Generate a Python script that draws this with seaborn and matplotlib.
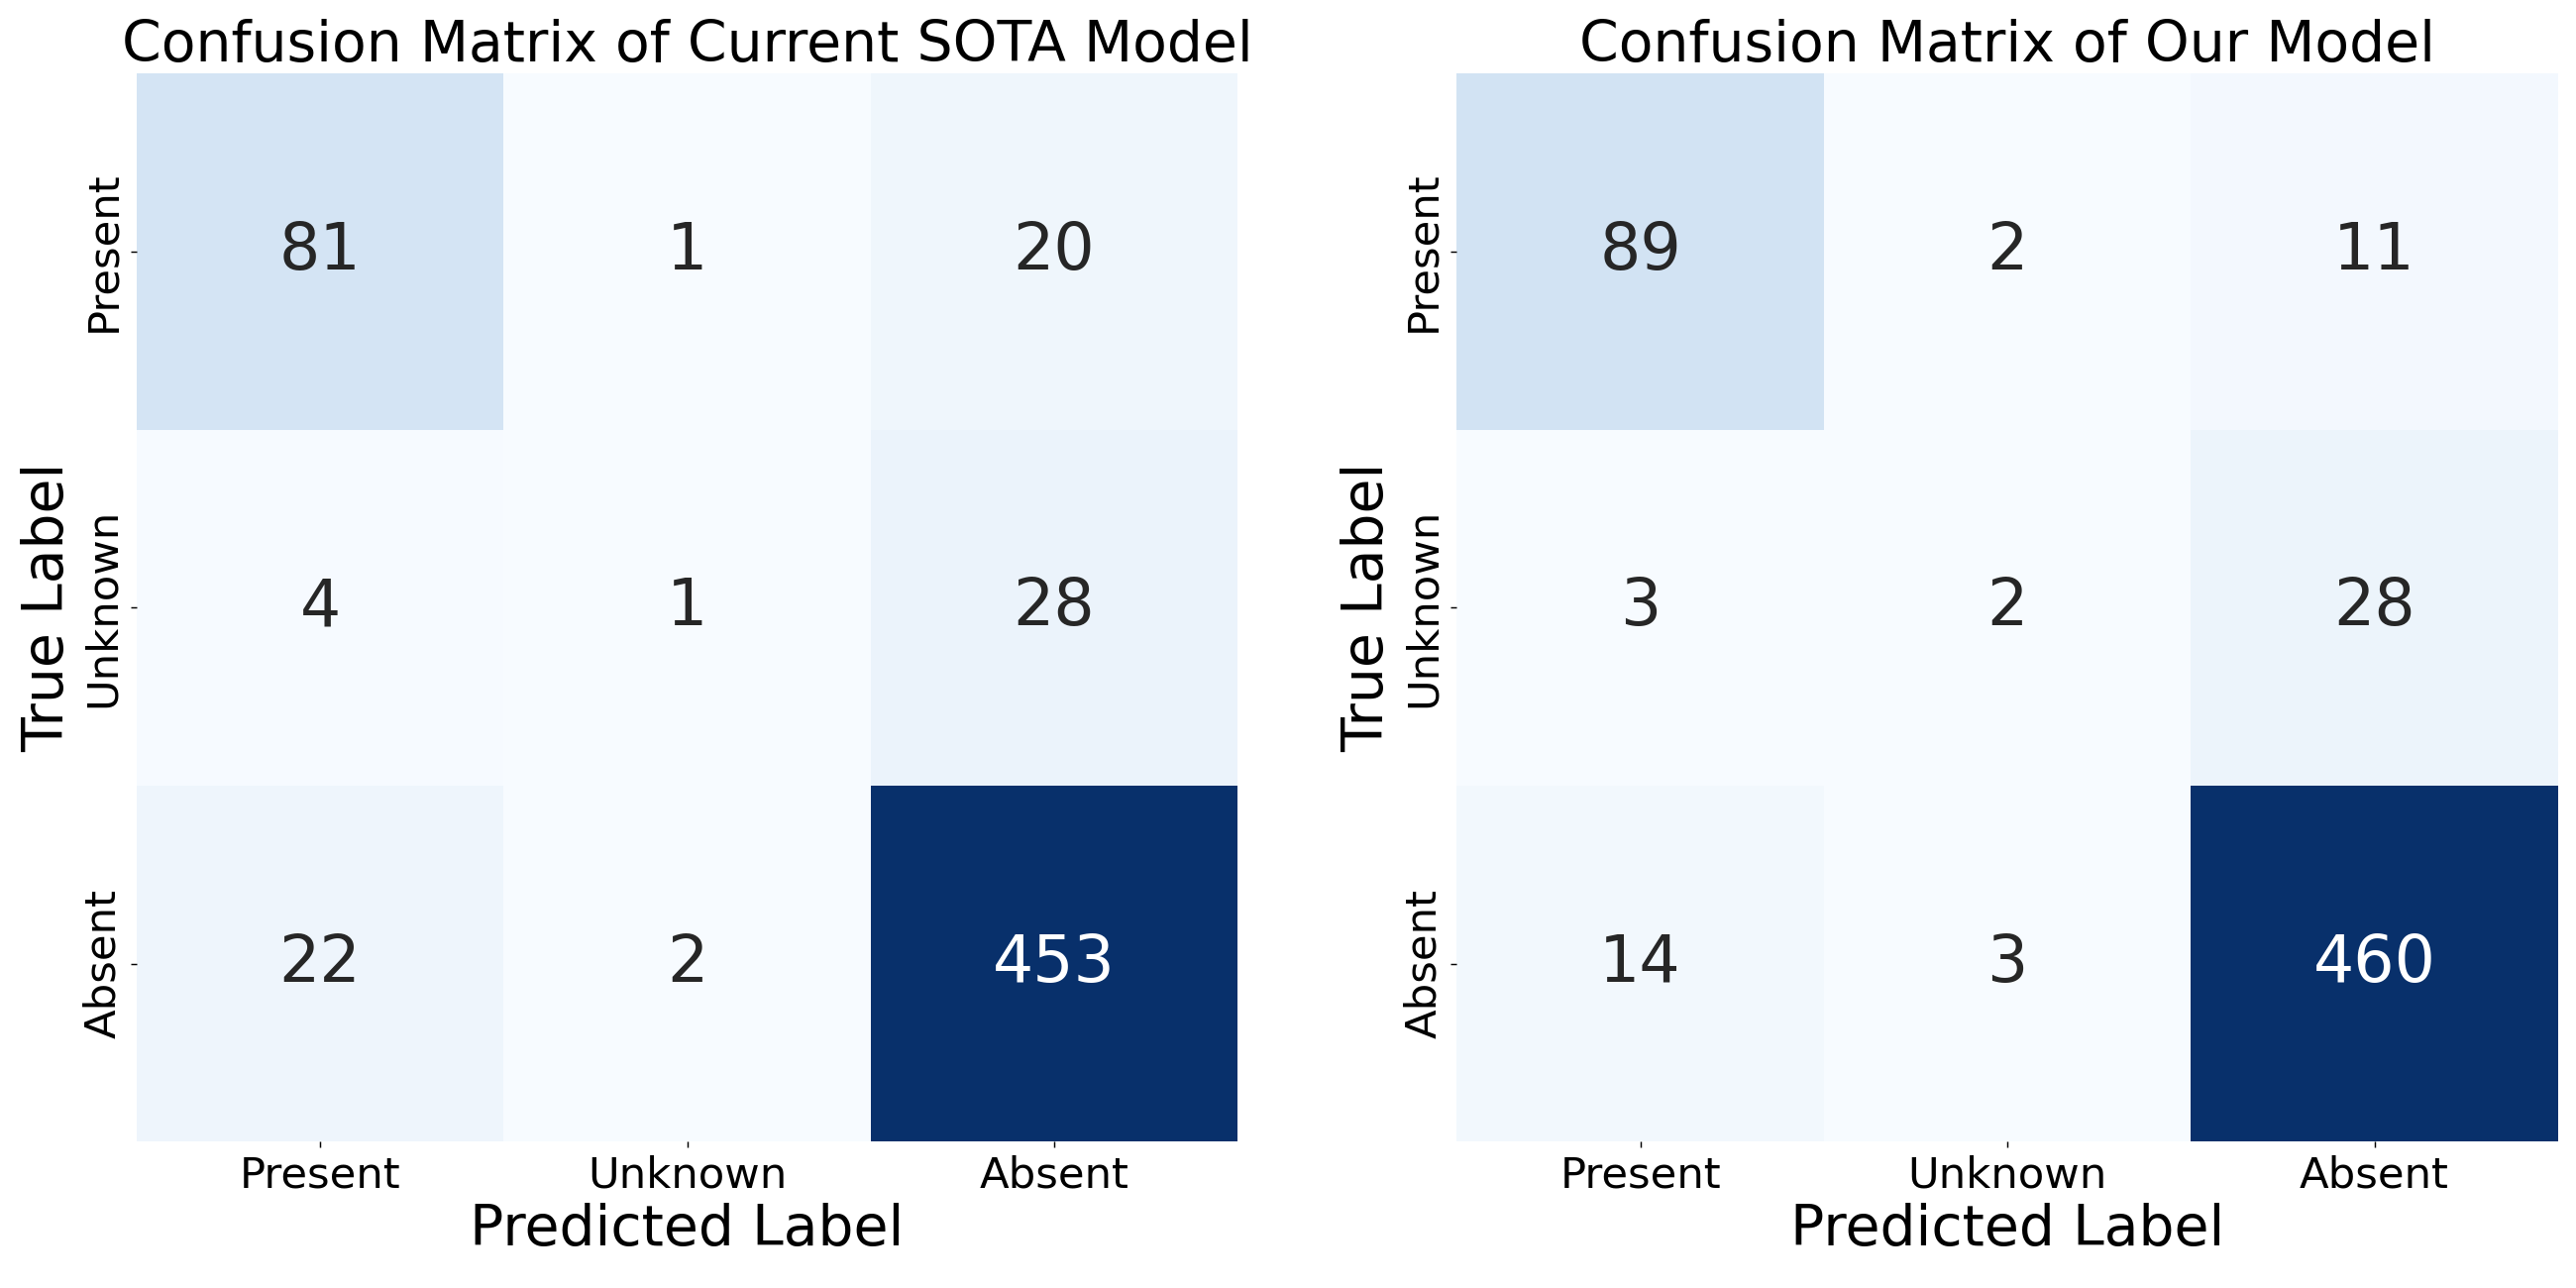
import matplotlib
matplotlib.use("Agg")
import matplotlib.pyplot as plt
import numpy as np
import seaborn as sns

labels = ["Present", "Unknown", "Absent"]
sota_matrix = [[81, 1, 20],
               [4, 1, 28],
               [22, 2, 453]]
ours_matrix = [[89, 2, 11],
               [3, 2, 28],
               [14, 3, 460]]

panels = [
    ("Confusion Matrix of Current SOTA Model", sota_matrix),
    ("Confusion Matrix of Our Model", ours_matrix),
]

fig, axes = plt.subplots(1, 2, figsize=(20, 10), dpi=130)
for axis, (title, matrix) in zip(axes, panels):
    sns.heatmap(np.asarray(matrix), annot=True, fmt="d", cmap="Blues", cbar=False,
                xticklabels=labels, yticklabels=labels, ax=axis,
                annot_kws={"size": 36})
    axis.set_title(title, fontsize=31.5)
    axis.set_xlabel("Predicted Label", fontsize=31.5)
    axis.set_ylabel("True Label", fontsize=31.5)
    axis.tick_params(axis="both", labelsize=24)
fig.subplots_adjust(left=0.053, right=0.993, top=0.943, bottom=0.1135, wspace=0.199)
fig.savefig("out.png", dpi=130)
